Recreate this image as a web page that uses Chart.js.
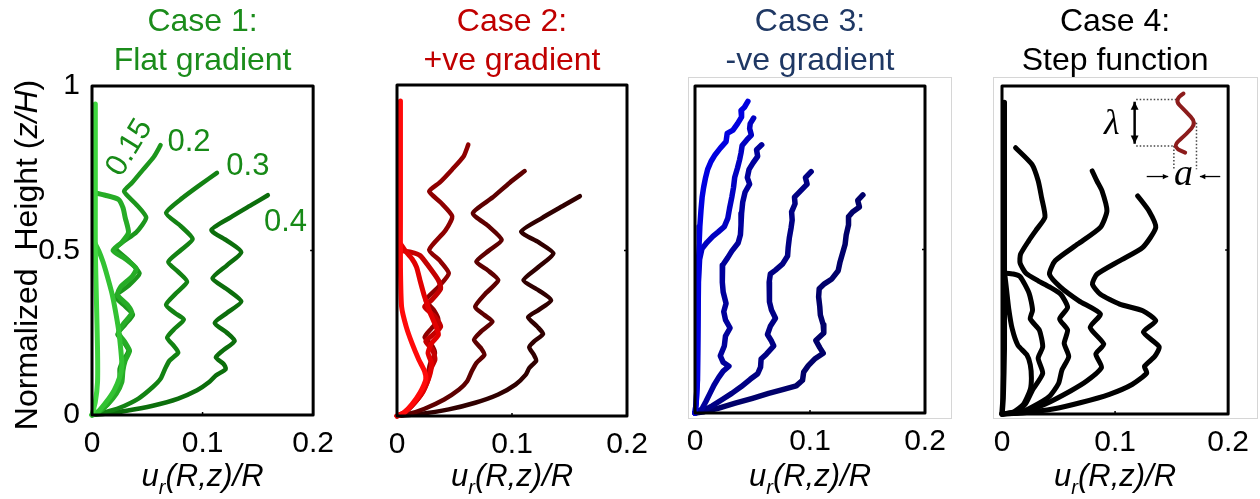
<!DOCTYPE html>
<html>
<head>
<meta charset="utf-8">
<script src="https://cdn.jsdelivr.net/npm/chart.js@4.4.1/dist/chart.umd.min.js"></script>
<style>
  body { margin: 0; background: #fff; width: 1260px; height: 499px; overflow: hidden; position: relative; }
  canvas { position: absolute; top: 0; }
</style>
</head>
<body>
<canvas id="flatChart" width="345" height="499" style="left:0px"></canvas>
<canvas id="posChart" width="310" height="499" style="left:350px"></canvas>
<canvas id="negChart" width="300" height="499" style="left:660px"></canvas>
<canvas id="stepChart" width="295" height="499" style="left:965px"></canvas>
<script>
// radial displacement profiles: [u_r(R,z)/R, z/H], listed top to bottom
var xTicks = [0, 0.1, 0.2];
var yTicks = [0, 0.5, 1];

// Case 1: flat gradient
var flat05 = [[0.003,0.945],[0.003,0.80],[0.003,0.65],[0.003,0.50],[0.004,0.35],[0.005,0.20],[0.005,0.10],[0.003,0.04],[0,0]];
var flat10 = [[0.003,0.52],[0.006,0.50],[0.010,0.465],[0.014,0.42],[0.018,0.37],[0.021,0.32],[0.024,0.26],[0.026,0.20],[0.027,0.15],[0.025,0.115],[0.020,0.075],[0.013,0.04],[0.006,0.012],[0,0]];
var flat15 = [[0.003,0.675],[0.012,0.668],[0.024,0.655],[0.028,0.63],[0.030,0.60],[0.033,0.555],[0.027,0.525],[0.019,0.50],[0.030,0.475],[0.040,0.445],[0.036,0.42],[0.026,0.39],[0.023,0.365],[0.032,0.335],[0.036,0.31],[0.028,0.275],[0.024,0.25],[0.030,0.22],[0.034,0.195],[0.030,0.165],[0.028,0.135],[0.027,0.10],[0.022,0.065],[0.014,0.032],[0.006,0.009],[0,0]];
var flat20 = [[0.062,0.82],[0.056,0.785],[0.046,0.745],[0.036,0.705],[0.029,0.68],[0.040,0.64],[0.049,0.60],[0.040,0.555],[0.022,0.508],[0.033,0.47],[0.043,0.43],[0.032,0.39],[0.021,0.36],[0.030,0.33],[0.037,0.305],[0.030,0.275],[0.023,0.245],[0.029,0.22],[0.033,0.195],[0.028,0.165],[0.025,0.14],[0.025,0.10],[0.021,0.065],[0.014,0.032],[0.006,0.009],[0,0]];
var flat30 = [[0.113,0.736],[0.098,0.70],[0.082,0.66],[0.067,0.614],[0.080,0.575],[0.091,0.535],[0.080,0.50],[0.069,0.465],[0.078,0.435],[0.086,0.405],[0.076,0.37],[0.067,0.335],[0.075,0.31],[0.083,0.29],[0.074,0.26],[0.068,0.235],[0.074,0.21],[0.078,0.19],[0.070,0.165],[0.066,0.14],[0.062,0.11],[0.055,0.085],[0.042,0.05],[0.025,0.022],[0.010,0.007],[0,0]];
var flat40 = [[0.159,0.668],[0.145,0.64],[0.125,0.60],[0.108,0.562],[0.122,0.53],[0.135,0.495],[0.122,0.455],[0.109,0.415],[0.123,0.38],[0.135,0.345],[0.122,0.31],[0.111,0.28],[0.122,0.25],[0.129,0.225],[0.118,0.195],[0.112,0.175],[0.119,0.155],[0.121,0.14],[0.112,0.12],[0.106,0.10],[0.095,0.075],[0.078,0.05],[0.055,0.028],[0.030,0.012],[0.010,0.003],[0,0]];
var flatAmps = ['0.15', '0.2', '0.3', '0.4'];

// Case 2: +ve gradient
var pos05 = [[0.003,0.952],[0.003,0.80],[0.003,0.60],[0.003,0.45],[0.004,0.33],[0.008,0.27],[0.013,0.22],[0.019,0.17],[0.024,0.135],[0.025,0.11],[0.020,0.07],[0.013,0.035],[0.006,0.01],[0,0]];
var pos10 = [[0.003,0.52],[0.007,0.50],[0.013,0.475],[0.017,0.45],[0.020,0.41],[0.024,0.36],[0.029,0.31],[0.034,0.27],[0.036,0.245],[0.030,0.22],[0.027,0.19],[0.030,0.16],[0.029,0.13],[0.026,0.10],[0.021,0.065],[0.013,0.032],[0.006,0.009],[0,0]];
var pos15 = [[0.003,0.50],[0.012,0.495],[0.020,0.485],[0.028,0.45],[0.036,0.41],[0.038,0.385],[0.030,0.35],[0.024,0.33],[0.033,0.30],[0.038,0.27],[0.031,0.245],[0.025,0.225],[0.031,0.20],[0.033,0.17],[0.029,0.14],[0.027,0.11],[0.022,0.07],[0.014,0.035],[0.006,0.01],[0,0]];
var pos20 = [[0.062,0.82],[0.058,0.785],[0.048,0.745],[0.037,0.705],[0.028,0.679],[0.038,0.645],[0.048,0.603],[0.042,0.56],[0.028,0.502],[0.037,0.47],[0.045,0.431],[0.036,0.39],[0.025,0.35],[0.032,0.32],[0.036,0.29],[0.030,0.265],[0.024,0.238],[0.030,0.215],[0.033,0.19],[0.029,0.16],[0.027,0.13],[0.025,0.095],[0.020,0.06],[0.013,0.03],[0.006,0.009],[0,0]];
var pos30 = [[0.111,0.74],[0.098,0.705],[0.083,0.66],[0.066,0.613],[0.079,0.575],[0.091,0.532],[0.080,0.50],[0.069,0.466],[0.079,0.44],[0.088,0.41],[0.077,0.37],[0.068,0.33],[0.076,0.305],[0.083,0.285],[0.073,0.255],[0.067,0.23],[0.073,0.205],[0.076,0.185],[0.069,0.16],[0.065,0.135],[0.061,0.105],[0.054,0.08],[0.041,0.05],[0.024,0.022],[0.010,0.006],[0,0]];
var pos40 = [[0.159,0.664],[0.146,0.638],[0.126,0.598],[0.108,0.557],[0.123,0.525],[0.136,0.491],[0.123,0.45],[0.110,0.41],[0.123,0.38],[0.134,0.35],[0.123,0.32],[0.114,0.299],[0.122,0.27],[0.127,0.248],[0.119,0.225],[0.115,0.208],[0.119,0.185],[0.121,0.167],[0.115,0.145],[0.112,0.125],[0.103,0.095],[0.088,0.065],[0.068,0.04],[0.045,0.02],[0.020,0.006],[0,0]];

// Case 3: -ve gradient
var neg1 = [[0.046,0.953],[0.043,0.935],[0.040,0.925],[0.0405,0.905],[0.037,0.885],[0.033,0.865],[0.028,0.855],[0.027,0.83],[0.022,0.81],[0.0175,0.79],[0.0139,0.769],[0.011,0.745],[0.0092,0.72],[0.0075,0.69],[0.0062,0.66],[0.0052,0.62],[0.0042,0.57],[0.0036,0.52],[0.003,0.45],[0.0026,0.35],[0.0023,0.22],[0.002,0.10],[0.001,0.03],[0,0]];
var neg2 = [[0.051,0.902],[0.048,0.885],[0.0475,0.87],[0.049,0.85],[0.045,0.835],[0.041,0.818],[0.040,0.795],[0.0388,0.775],[0.037,0.75],[0.0345,0.72],[0.0335,0.69],[0.032,0.66],[0.030,0.625],[0.0285,0.595],[0.0255,0.57],[0.020,0.553],[0.0155,0.54],[0.0105,0.522],[0.006,0.502],[0.004,0.47],[0.003,0.40],[0.0025,0.25],[0.002,0.10],[0.001,0.03],[0,0]];
var neg3 = [[0.058,0.82],[0.0535,0.805],[0.0545,0.785],[0.0505,0.765],[0.047,0.745],[0.0455,0.72],[0.0475,0.70],[0.0435,0.675],[0.0415,0.645],[0.0405,0.61],[0.040,0.575],[0.0395,0.545],[0.0375,0.52],[0.032,0.495],[0.0285,0.475],[0.024,0.452],[0.0235,0.43],[0.024,0.40],[0.0245,0.37],[0.027,0.335],[0.025,0.31],[0.0265,0.285],[0.0305,0.26],[0.0265,0.235],[0.0255,0.205],[0.022,0.175],[0.0245,0.155],[0.0295,0.143],[0.0245,0.128],[0.0205,0.108],[0.0165,0.085],[0.013,0.06],[0.0095,0.035],[0.006,0.012],[0,0]];
var neg4 = [[0.101,0.738],[0.096,0.72],[0.0975,0.70],[0.092,0.68],[0.0865,0.66],[0.087,0.64],[0.084,0.615],[0.0845,0.59],[0.0835,0.565],[0.082,0.535],[0.081,0.505],[0.0805,0.48],[0.076,0.455],[0.070,0.437],[0.0655,0.425],[0.0645,0.40],[0.0645,0.37],[0.065,0.34],[0.0665,0.315],[0.070,0.29],[0.0655,0.265],[0.063,0.24],[0.0665,0.22],[0.0685,0.205],[0.062,0.18],[0.0575,0.165],[0.057,0.14],[0.0545,0.12],[0.048,0.103],[0.040,0.08],[0.032,0.06],[0.024,0.042],[0.015,0.022],[0.007,0.007],[0,0]];
var neg5 = [[0.146,0.667],[0.1415,0.65],[0.143,0.63],[0.137,0.615],[0.1335,0.60],[0.1335,0.575],[0.1315,0.545],[0.1305,0.515],[0.128,0.485],[0.126,0.46],[0.1245,0.435],[0.119,0.41],[0.1125,0.395],[0.108,0.38],[0.1075,0.355],[0.1085,0.325],[0.109,0.30],[0.1115,0.27],[0.112,0.245],[0.105,0.222],[0.1085,0.20],[0.1115,0.183],[0.104,0.165],[0.0985,0.145],[0.0945,0.125],[0.0935,0.10],[0.088,0.083],[0.077,0.072],[0.064,0.06],[0.050,0.045],[0.035,0.03],[0.020,0.014],[0.008,0.004],[0,0]];

// Case 4: step function
var step0 = [[0.002,0.95],[0.002,0.70],[0.002,0.45],[0.002,0.20],[0.001,0.05],[0,0]];
var step1 = [[0.002,0.44],[0.004,0.38],[0.006,0.32],[0.009,0.26],[0.014,0.21],[0.022,0.18],[0.025,0.15],[0.026,0.11],[0.025,0.075],[0.019,0.03],[0.010,0.006],[0,0]];
var step2 = [[0.002,0.43],[0.010,0.427],[0.016,0.419],[0.024,0.368],[0.027,0.317],[0.025,0.29],[0.033,0.256],[0.036,0.205],[0.032,0.17],[0.036,0.124],[0.027,0.073],[0.021,0.032],[0.013,0.007],[0,0]];
var step3 = [[0.012,0.812],[0.0265,0.761],[0.032,0.711],[0.035,0.66],[0.038,0.60],[0.030,0.56],[0.0236,0.528],[0.0164,0.487],[0.016,0.46],[0.021,0.43],[0.032,0.406],[0.0417,0.388],[0.052,0.365],[0.058,0.325],[0.051,0.29],[0.058,0.256],[0.055,0.215],[0.059,0.175],[0.053,0.134],[0.050,0.093],[0.0417,0.053],[0.0272,0.022],[0.0157,0.004],[0,0]];
var step4 = [[0.0798,0.741],[0.084,0.71],[0.0885,0.68],[0.0928,0.619],[0.087,0.569],[0.067,0.518],[0.047,0.467],[0.042,0.426],[0.052,0.386],[0.068,0.345],[0.087,0.305],[0.078,0.264],[0.090,0.213],[0.083,0.183],[0.088,0.142],[0.0755,0.102],[0.061,0.071],[0.038,0.03],[0.018,0.006],[0,0]];
var step5 = [[0.120,0.665],[0.130,0.619],[0.136,0.569],[0.1245,0.508],[0.104,0.467],[0.084,0.426],[0.080,0.396],[0.087,0.365],[0.104,0.335],[0.1245,0.315],[0.136,0.284],[0.125,0.25],[0.139,0.205],[0.135,0.175],[0.126,0.145],[0.128,0.125],[0.115,0.09],[0.095,0.06],[0.070,0.035],[0.045,0.015],[0.020,0.004],[0,0]];

Chart.defaults.font.family = '"Liberation Sans", Arial, sans-serif';
Chart.defaults.color = '#000';

var SANS = '"Liberation Sans", Arial, sans-serif';
var SERIF = '"Liberation Serif", "Times New Roman", serif';

function drawPieces(ctx, pieces, x, y) {
    pieces.forEach(function(p) {
        ctx.font = p.font;
        ctx.fillText(p.text, x, y + (p.dy || 0));
        x += ctx.measureText(p.text).width;
    });
}

function piecesWidth(ctx, pieces) {
    var w = 0;
    pieces.forEach(function(p) {
        ctx.font = p.font;
        w += ctx.measureText(p.text).width;
    });
    return w;
}

function drawXTitle(ctx, cx, baseline) {
    var pieces = [
        { text: 'u', font: 'italic 31px ' + SANS },
        { text: 'r', font: 'italic 20px ' + SANS, dy: 8 },
        { text: '(R,z)/R', font: 'italic 31px ' + SANS }
    ];
    ctx.fillStyle = '#000';
    ctx.textBaseline = 'alphabetic';
    ctx.textAlign = 'left';
    drawPieces(ctx, pieces, cx - piecesWidth(ctx, pieces) / 2, baseline);
}

function drawYTitle(ctx) {
    var pieces = [
        { text: 'Normalized  Height (', font: '32px ' + SANS },
        { text: 'z/H', font: 'italic 32px ' + SANS },
        { text: ')', font: '32px ' + SANS }
    ];
    ctx.save();
    ctx.translate(37, 255);
    ctx.rotate(-Math.PI / 2);
    ctx.fillStyle = '#000';
    ctx.textBaseline = 'alphabetic';
    ctx.textAlign = 'left';
    drawPieces(ctx, pieces, -piecesWidth(ctx, pieces) / 2, 0);
    ctx.restore();
}

function arrowLine(ctx, x0, y0, x1, y1, head, both) {
    var ang = Math.atan2(y1 - y0, x1 - x0);
    ctx.beginPath();
    ctx.moveTo(x0, y0);
    ctx.lineTo(x1, y1);
    ctx.stroke();
    function tip(x, y, a) {
        ctx.beginPath();
        ctx.moveTo(x, y);
        ctx.lineTo(x - head * Math.cos(a - 0.45), y - head * Math.sin(a - 0.45));
        ctx.lineTo(x - head * Math.cos(a + 0.45), y - head * Math.sin(a + 0.45));
        ctx.closePath();
        ctx.fill();
    }
    tip(x1, y1, ang);
    if (both) tip(x0, y0, ang + Math.PI);
}

// amplitude labels next to the flat-gradient curves
function drawFlatLabels(chart, ctx) {
    var sx = chart.scales.x, sy = chart.scales.y;
    var spots = [[0.034, 0.812, -1.02], [0.0877, 0.827, 0], [0.141, 0.754, 0], [0.175, 0.584, 0]];
    ctx.fillStyle = '#178a17';
    ctx.font = '31px ' + SANS;
    ctx.textAlign = 'center';
    ctx.textBaseline = 'middle';
    flatAmps.forEach(function(t, i) {
        var s = spots[i];
        ctx.save();
        ctx.translate(sx.getPixelForValue(s[0]), sy.getPixelForValue(s[1]));
        ctx.rotate(s[2]);
        ctx.fillText(t, 0, 0);
        ctx.restore();
    });
}

// sketch of one wavelength (lambda) and amplitude (a)
function drawInset(chart, ctx) {
    var sx = chart.scales.x, sy = chart.scales.y;
    function px(v) { return sx.getPixelForValue(v); }
    function py(v) { return sy.getPixelForValue(v); }
    function seg(x0, y0, x1, y1) {
        ctx.beginPath();
        ctx.moveTo(px(x0), py(y0));
        ctx.lineTo(px(x1), py(y1));
        ctx.stroke();
    }
    ctx.save();
    ctx.strokeStyle = '#444';
    ctx.lineWidth = 1.5;
    ctx.setLineDash([1.5, 2]);
    seg(0.1187, 0.959, 0.155, 0.959);
    seg(0.1187, 0.817, 0.153, 0.817);
    seg(0.152, 0.817, 0.152, 0.746);
    seg(0.172, 0.888, 0.172, 0.746);
    ctx.setLineDash([]);

    var wave = [[0.1605,0.977],[0.152,0.959],[0.162,0.924],[0.172,0.888],[0.163,0.853],[0.1527,0.822],[0.155,0.807],[0.162,0.797]];
    ctx.strokeStyle = '#8c1c1c';
    ctx.lineWidth = 4;
    ctx.lineCap = 'round';
    ctx.lineJoin = 'round';
    ctx.beginPath();
    ctx.moveTo(px(wave[0][0]), py(wave[0][1]));
    for (var i = 1; i < wave.length - 1; i++) {
        var mx = (px(wave[i][0]) + px(wave[i + 1][0])) / 2;
        var my = (py(wave[i][1]) + py(wave[i + 1][1])) / 2;
        ctx.quadraticCurveTo(px(wave[i][0]), py(wave[i][1]), mx, my);
    }
    ctx.lineTo(px(wave[wave.length - 1][0]), py(wave[wave.length - 1][1]));
    ctx.stroke();

    ctx.strokeStyle = '#000';
    ctx.fillStyle = '#000';
    ctx.lineWidth = 2.5;
    ctx.lineCap = 'butt';
    arrowLine(ctx, px(0.1173), py(0.952), px(0.1173), py(0.824), 9, true);
    ctx.lineWidth = 1.3;
    arrowLine(ctx, px(0.128), py(0.724), px(0.147), py(0.724), 6, false);
    arrowLine(ctx, px(0.193), py(0.724), px(0.175), py(0.724), 6, false);

    ctx.textAlign = 'center';
    ctx.textBaseline = 'middle';
    ctx.font = 'italic 36px ' + SERIF;
    ctx.fillText('\u03bb', px(0.097), py(0.883));
    ctx.font = 'italic 38px ' + SERIF;
    ctx.fillText('a', px(0.1605), py(0.728));
    ctx.restore();
}

function pageFrame(x, y, w, h) {
    return function(chart, ctx) {
        var cl = parseInt(chart.canvas.style.left, 10);
        ctx.strokeStyle = '#d6d6d6';
        ctx.lineWidth = 1;
        ctx.strokeRect(x - cl + 0.5, y + 0.5, w, h);
    };
}

function decorations(panel) {
    return {
        id: 'panelDecor',
        beforeDraw: function(chart) {
            if (panel.under) {
                chart.ctx.save();
                panel.under(chart, chart.ctx);
                chart.ctx.restore();
            }
        },
        afterDraw: function(chart) {
            var ctx = chart.ctx, a = chart.chartArea;
            var sx = chart.scales.x, sy = chart.scales.y;
            ctx.save();
            ctx.strokeStyle = '#000';
            ctx.lineWidth = 3;
            ctx.lineJoin = 'round';
            ctx.strokeRect(a.left, a.top, a.right - a.left, a.bottom - a.top);
            ctx.lineWidth = 1.5;
            ctx.beginPath();
            ctx.moveTo(sx.getPixelForValue(0.1), a.bottom);
            ctx.lineTo(sx.getPixelForValue(0.1), a.bottom - 3);
            ctx.moveTo(a.right, sy.getPixelForValue(0.5));
            ctx.lineTo(a.right - 3, sy.getPixelForValue(0.5));
            ctx.stroke();
            drawXTitle(ctx, (a.left + a.right) / 2, 486);
            if (panel.showY) drawYTitle(ctx);
            if (panel.over) panel.over(chart, ctx);
            ctx.restore();
        }
    };
}

function buildPanel(panel) {
    var canvas = document.getElementById(panel.id);
    var cl = parseInt(canvas.style.left, 10);
    var box = panel.box;
    var lineH = 32 * 1.23;
    return new Chart(canvas, {
        type: 'scatter',
        data: {
            datasets: panel.curves.map(function(curve, i) {
                return {
                    data: curve.map(function(p) { return { x: p[0], y: p[1] }; }),
                    showLine: true,
                    borderColor: panel.colors[i],
                    borderWidth: panel.widths[i],
                    pointRadius: 0,
                    tension: panel.tension,
                    borderJoinStyle: 'round',
                    borderCapStyle: 'round',
                    clip: false
                };
            })
        },
        options: {
            responsive: false,
            animation: false,
            events: [],
            devicePixelRatio: 1,
            layout: {
                padding: { left: 0, right: canvas.width - (box[2] - cl), top: 0, bottom: 0 }
            },
            plugins: {
                legend: { display: false },
                tooltip: { enabled: false },
                title: {
                    display: true,
                    text: panel.title,
                    color: panel.titleColor,
                    fullSize: false,
                    font: { size: 32, weight: 'normal', lineHeight: 1.23 },
                    padding: { top: 2, bottom: box[1] - 2 - 2 * lineH }
                }
            },
            scales: {
                x: {
                    type: 'linear',
                    min: 0,
                    max: 0.2,
                    grid: { display: false, drawTicks: false },
                    border: { display: false },
                    ticks: {
                        padding: 11,
                        font: { size: 30 },
                        maxRotation: 0,
                        autoSkip: false,
                        callback: function(v) { return String(v); }
                    },
                    afterBuildTicks: function(s) { s.ticks = xTicks.map(function(v) { return { value: v }; }); },
                    afterFit: function(s) { s.height = 499 - box[3]; }
                },
                y: {
                    type: 'linear',
                    min: 0,
                    max: 1,
                    grid: { display: false, drawTicks: false },
                    border: { display: false },
                    ticks: {
                        display: !!panel.showY,
                        padding: 12,
                        font: { size: 30 },
                        autoSkip: false,
                        callback: function(v) { return String(v); }
                    },
                    afterBuildTicks: function(s) { s.ticks = yTicks.map(function(v) { return { value: v }; }); },
                    afterFit: function(s) { s.width = box[0] - cl; }
                }
            }
        },
        plugins: [decorations(panel)]
    });
}

buildPanel({
    id: 'flatChart',
    box: [92, 86, 320, 415],
    title: ['Case 1:', 'Flat gradient'],
    titleColor: '#1b8c1b',
    showY: true,
    curves: [flat05, flat10, flat15, flat20, flat30, flat40],
    colors: ['#40d640', '#33c233', '#26ac26', '#1c961c', '#138213', '#0c6e0c'],
    widths: [5, 5, 5, 4.5, 4.5, 4.5],
    tension: 0.2,
    over: drawFlatLabels
});

buildPanel({
    id: 'posChart',
    box: [397, 85, 627, 416],
    title: ['Case 2:', '+ve gradient'],
    titleColor: '#c00000',
    curves: [pos05, pos10, pos15, pos20, pos30, pos40],
    colors: ['#ff0a0a', '#e20000', '#c40000', '#8e0000', '#5e0000', '#300000'],
    widths: [5, 5, 5, 4.5, 4.5, 4.5],
    tension: 0.2
});

buildPanel({
    id: 'negChart',
    box: [695, 86, 925, 413],
    title: ['Case 3:', '-ve gradient'],
    titleColor: '#1f3864',
    curves: [neg1, neg2, neg3, neg4, neg5],
    colors: ['#0000e0', '#0000c2', '#00009c', '#000084', '#00006a'],
    widths: [5.5, 5.5, 5.5, 5.5, 5.5],
    tension: 0,
    under: pageFrame(688, 77, 263, 341)
});

buildPanel({
    id: 'stepChart',
    box: [1002, 86, 1232, 414],
    title: ['Case 4:', 'Step function'],
    titleColor: '#000000',
    curves: [step0, step1, step2, step3, step4, step5],
    colors: ['#000', '#000', '#000', '#000', '#000', '#000'],
    widths: [5.5, 5, 5, 5, 5, 5],
    tension: 0.2,
    under: pageFrame(993, 77, 264, 341),
    over: drawInset
});
</script>
</body>
</html>
